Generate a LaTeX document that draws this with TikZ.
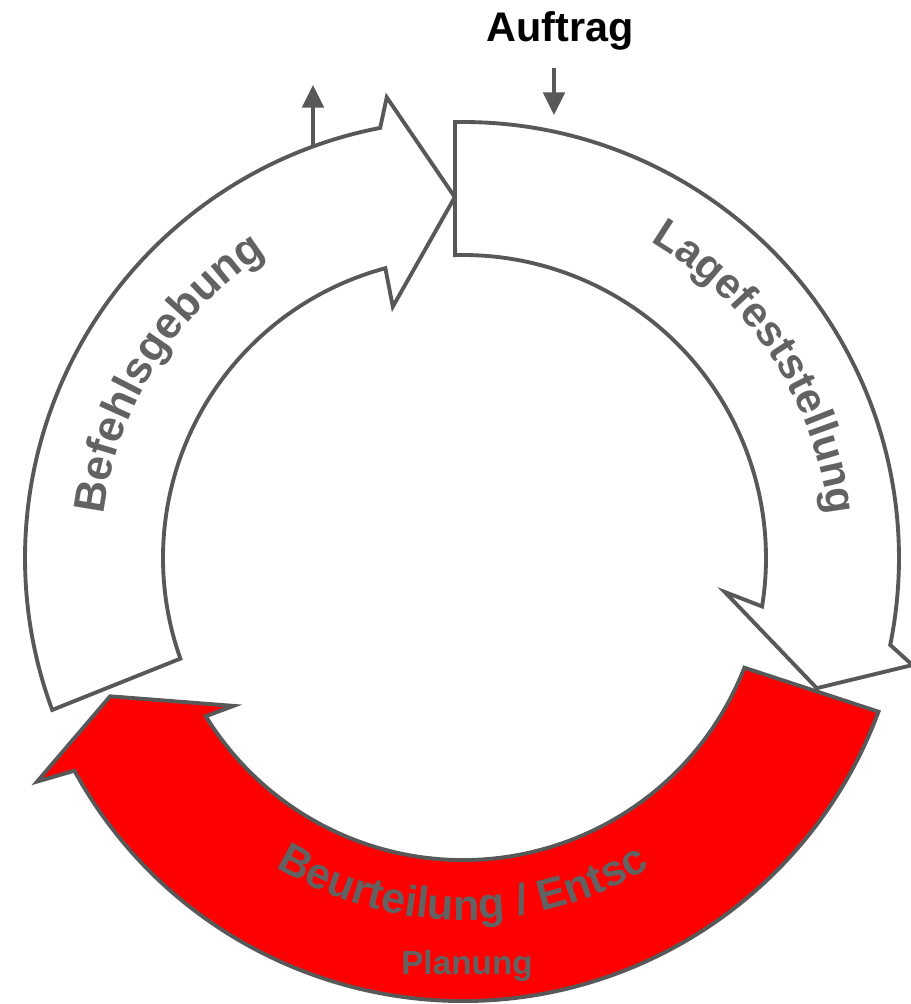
\documentclass[tikz,border=0pt]{standalone}
\usepackage{fontspec}
\setmainfont{Liberation Sans}
\usetikzlibrary{arrows.meta, decorations.text}
\definecolor{linegray}{RGB}{88,88,88}
\definecolor{textgray}{RGB}{98,98,98}
\definecolor{planred}{RGB}{255,0,0}

\begin{document}
\begin{tikzpicture}[
         x=0.75pt, y=0.75pt,
         phase/.style={draw=linegray, line width=2.9pt, line join=miter, fill=white},
         redphase/.style={phase, fill=planred},
         flow/.style={draw=linegray, line width=3pt, -{Triangle[width=16pt, length=17pt]}},
         ringtext/.style={decorate, decoration={text along path, text align=center, text={#1}}}
      ]
         \useasboundingbox (-463,-446) rectangle (448,558);

         % Phases of the cycle
         \draw[phase] (200.3:438) arc[start angle=200.3, end angle=100.9, radius=438]
            -- (99.4:467) -- (91.3:361) -- (105.6:261) -- (105:300)
            arc[start angle=105, end angle=199.6, radius=300] -- cycle;
         \draw[redphase] (-20.3:443) -- (-21.3:302)
            arc[start angle=-21.3, end angle=-148.4, radius=302]
            -- (212.8:273) -- (201.4:379) -- (207.7:481) -- (208.7:443)
            arc[start angle=208.7, end angle=339.7, radius=443] -- cycle;
         \draw[phase] (91.05:436) arc[start angle=91.05, end angle=-11.5, radius=436]
            -- (-13.4:462) -- (-20.2:377) -- (-7.4:264) -- (-9.2:303)
            arc[start angle=-9.2, end angle=91.5, radius=303] -- cycle;

         % Labels along the ring
         \path[ringtext={|\color{textgray}\bfseries\fontsize{33}{33}\selectfont|Befehlsgebung}]
            (182:362) arc[start angle=182, end angle=114, radius=362];
         \path[ringtext={|\color{textgray}\bfseries\fontsize{32}{32}\selectfont|Lagefeststellung}]
            (66:368) arc[start angle=66, end angle=0, radius=368];
         \path[ringtext={|\color{textgray}\bfseries\fontsize{32.5}{33}\selectfont|Beurteilung / Entsc}]
            (222:362) arc[start angle=222, end angle=318, radius=362];
         \node[font=\bfseries\fontsize{25}{25}\selectfont, text=textgray] (planung) at (4,-408) {Planung};

         % Order in and out
         \node[font=\bfseries\fontsize{31}{31}\selectfont, anchor=base] (auftrag) at (97,516) {Auftrag};
         \coordinate (auftragIn) at (91,490);
         \coordinate (lageTop) at (91,443);
         \draw[flow] (auftragIn) -- (lageTop);
         \coordinate (befehlTop) at (-150,413);
         \coordinate (befehlOut) at (-150,473);
         \draw[flow] (befehlTop) -- (befehlOut);
      \end{tikzpicture}
\end{document}
